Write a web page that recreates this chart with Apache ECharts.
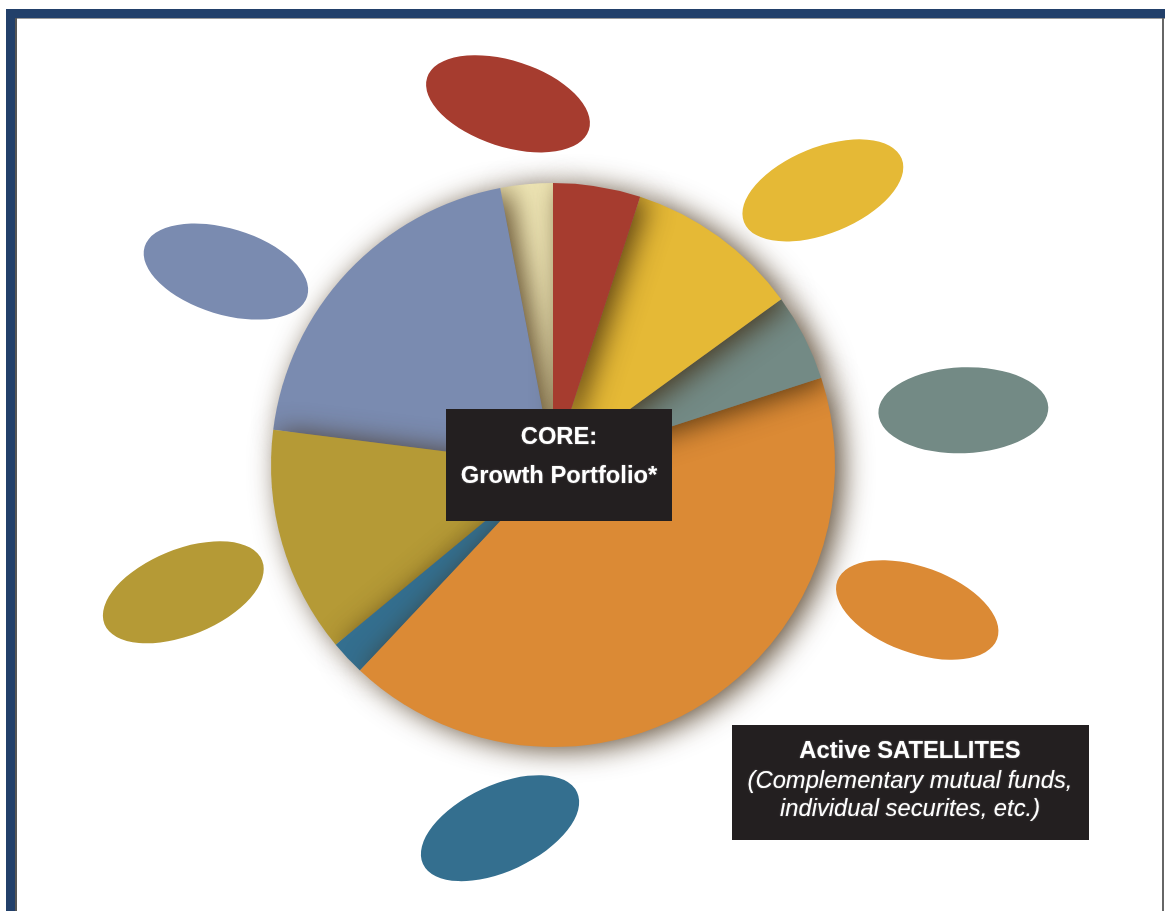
<!DOCTYPE html>
<html>
<head>
<meta charset="utf-8">
<title>Core and Satellites</title>
<script src="https://cdn.jsdelivr.net/npm/echarts@6/dist/echarts.min.js"></script>
<style>
  html, body { margin: 0; padding: 0; background: #fff; }
  #chart { width: 1165px; height: 911px; }
</style>
</head>
<body>
<div id="chart"></div>
<script>
// core pie, clockwise from 12 o'clock (percent)
var coreNames = ['Red', 'Yellow', 'Slate', 'Orange', 'Blue', 'Olive', 'Periwinkle', 'Cream']
var coreValues = [5, 10, 5, 42, 2, 13, 20, 3]
var coreColors = ['#a63c2f', '#e5b936', '#738a85', '#db8a35', '#346f8f', '#b59a36', '#7a8bb0', '#efe6b5']

// satellites: angle (deg clockwise from top) and distance from the pie centre
var satNames = ['Red', 'Yellow', 'Slate', 'Orange', 'Blue', 'Olive', 'Periwinkle']
var satAngles = [352.9, 44.5, 82.4, 111.7, 188.3, 251, 300.6]
var satDistances = [364, 385, 414, 392, 367, 391, 380]
var satColors = ['#a63c2f', '#e5b936', '#738a85', '#db8a35', '#346f8f', '#b59a36', '#7a8bb0']
var satTilt = [-18, 22, 2, -20, 25, 22, -17]

var chart = echarts.init(document.getElementById('chart'))

// pie is drawn in reverse so each slice's shadow falls on the next one clockwise
var pieData = coreValues.map(function(v, i) {
  return { name: coreNames[i], value: v, itemStyle: { color: coreColors[i] } }
}).reverse()

var satData = satAngles.map(function(a, i) {
  return {
    name: satNames[i],
    value: [satDistances[i], a],
    symbolRotate: satTilt[i],
    itemStyle: { color: satColors[i] }
  }
})

var txt = function(x, y, s, weight, fstyle) {
  return {
    type: 'text', x: x, y: y, z: 110,
    scaleX: 1.08,
    scaleY: 1.06,
    style: {
      text: s, fill: '#fff',
      fontFamily: 'Liberation Sans', fontSize: 22, fontWeight: weight, fontStyle: fstyle,
      align: 'center', verticalAlign: 'middle',
      textShadowColor: 'rgba(255,255,255,0.35)', textShadowBlur: 2
    }
  }
}

chart.setOption({
  backgroundColor: '#fff',
  animation: false,
  polar: { center: [553, 465], radius: 420 },
  radiusAxis: { min: 0, max: 420, show: false },
  angleAxis: { min: 0, max: 360, startAngle: 90, clockwise: true, show: false },
  series: [
    {
      type: 'pie',
      center: [553, 465],
      radius: [0, 282],
      startAngle: 90,
      clockwise: false,
      label: { show: false },
      labelLine: { show: false },
      silent: true,
      itemStyle: {
        borderWidth: 0,
        shadowBlur: 28,
        shadowOffsetX: 8,
        shadowOffsetY: 3,
        shadowColor: 'rgba(60,38,10,0.8)'
      },
      data: pieData
    },
    {
      type: 'scatter',
      coordinateSystem: 'polar',
      symbol: 'circle',
      symbolSize: [170, 86],
      silent: true,
      itemStyle: { opacity: 1 },
      data: satData
    }
  ],
  graphic: [
    // frame
    { type: 'rect', z: 100, shape: { x: 6, y: 9, width: 1159, height: 9 }, style: { fill: '#22406a' } },
    { type: 'rect', z: 100, shape: { x: 6, y: 9, width: 9, height: 902 }, style: { fill: '#22406a' } },
    { type: 'rect', z: 100, shape: { x: 15, y: 18, width: 1150, height: 1 }, style: { fill: '#9a9a9a' } },
    { type: 'rect', z: 100, shape: { x: 15, y: 18, width: 2, height: 893 }, style: { fill: '#555' } },
    { type: 'rect', z: 100, shape: { x: 1162, y: 18, width: 2, height: 893 }, style: { fill: '#666' } },
    // core label
    { type: 'rect', z: 100, shape: { x: 446, y: 409, width: 226, height: 112 }, style: { fill: '#231f20' } },
    txt(559, 438, 'CORE:', 'bold', 'normal'),
    txt(559, 477, 'Growth Portfolio*', 'bold', 'normal'),
    // satellites label
    { type: 'rect', z: 100, shape: { x: 732, y: 725, width: 357, height: 115 }, style: { fill: '#231f20' } },
    txt(910, 752, 'Active SATELLITES', 'bold', 'normal'),
    txt(910, 782, '(Complementary mutual funds,', 'normal', 'italic'),
    txt(910, 810, 'individual securites, etc.)', 'normal', 'italic')
  ]
})
</script>
</body>
</html>
